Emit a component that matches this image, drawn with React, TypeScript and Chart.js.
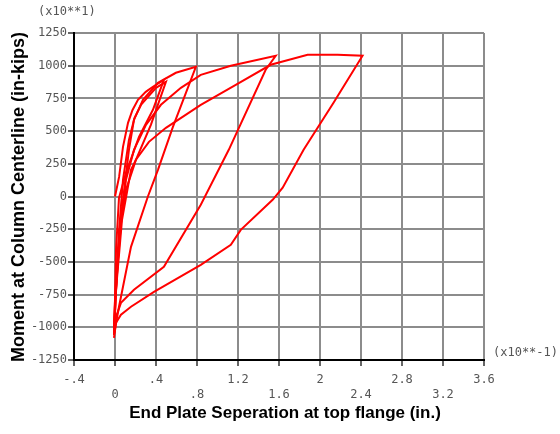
import React, { useEffect, useRef } from "react";
import { Chart, registerables } from "chart.js";

Chart.register(...registerables);

// Tick values and labels
const xTickValues = [-0.4, 0, 0.4, 0.8, 1.2, 1.6, 2.0, 2.4, 2.8, 3.2, 3.6];
const xTickLabels = ["-.4", "0", ".4", ".8", "1.2", "1.6", "2", "2.4", "2.8", "3.2", "3.6"];
const yTickValues = [-1250, -1000, -750, -500, -250, 0, 250, 500, 750, 1000, 1250];

// End plate separation (x10^-1 in.) and moment (x10 in-kips), one pair of arrays per cycle
const cycle1Sep = [0, 0.04, 0.078, 0.127, 0.17, 0.224, 0.3, 0.37, 0.477, 0.37, 0.234, 0.107, 0.039, 0.01, 0, -0.01];
const cycle1Moment = [0, 150, 380, 563, 660, 739, 800, 839, 892, 663, 456, 181, -10, -408, -791, -1019];

const cycle2Sep = [-0.01, 0.01, 0.04, 0.078, 0.136, 0.19, 0.253, 0.4, 0.497, 0.35, 0.204, 0.107, 0.039, 0.01, -0.01];
const cycle2Moment = [-1019, -638, -256, 128, 433, 600, 700, 831, 877, 548, 280, 51, -256, -715, -1057];

const cycle3Sep = [-0.01, 0.0, 0.029, 0.078, 0.136, 0.185, 0.273, 0.419, 0.594, 0.789, 0.565, 0.419, 0.321, 0.156, 0.039, -0.01];
const cycle3Moment = [-1057, -800, -485, -25, 356, 586, 739, 869, 946, 992, 532, 204, 0, -385, -843, -1057];

const cycle4Sep = [-0.01, 0.005, 0.04, 0.107, 0.185, 0.302, 0.448, 0.643, 0.837, 1.13, 1.568, 1.47, 1.11, 0.837, 0.477, 0.185, 0.058, 0.01, -0.01];
const cycle4Moment = [-1057, -790, -330, 128, 356, 548, 701, 831, 930, 999, 1076, 969, 357, -63, -537, -713, -813, -920, -1057];

const cycle5Sep = [-0.01, 0.01, 0.068, 0.156, 0.204, 0.331, 0.497, 0.837, 1.178, 1.519, 1.879, 2.171, 2.415, 2.132, 1.84, 1.636, 1.538, 1.227, 1.13, 0.837, 0.38, 0.156, 0.058, 0.01, -0.01];
const cycle5Moment = [-1057, -713, -180, 204, 281, 418, 525, 701, 854, 1007, 1083, 1083, 1076, 716, 357, 67, -25, -255, -370, -522, -729, -843, -904, -966, -1080];

const cycles = [
  [cycle1Sep, cycle1Moment],
  [cycle2Sep, cycle2Moment],
  [cycle3Sep, cycle3Moment],
  [cycle4Sep, cycle4Moment],
  [cycle5Sep, cycle5Moment],
];

const yTitle = "Moment at Column Centerline (in-kips)";
const xTitle = "End Plate Seperation at top flange (in.)";
const yMultiplier = "(x10**1)";
const xMultiplier = "(x10**-1)";

const MONO = '"DejaVu Sans Mono", monospace';
const SANS = '"Liberation Sans", Arial, sans-serif';

const textPlugin = {
  id: "axisTexts",
  afterDraw(chart: any) {
    const ctx = chart.ctx;
    ctx.save();
    ctx.fillStyle = "#000";
    ctx.textAlign = "center";
    ctx.textBaseline = "middle";
    ctx.font = `bold 17px ${SANS}`;
    ctx.fillText(xTitle, 285, 413);
    ctx.save();
    ctx.translate(19, 197);
    ctx.rotate(-Math.PI / 2);
    ctx.font = `bold 18px ${SANS}`;
    ctx.fillText(yTitle, 0, 0);
    ctx.restore();
    ctx.font = `12px ${MONO}`;
    ctx.fillStyle = "#555";
    ctx.textAlign = "left";
    ctx.fillText(yMultiplier, 38, 12);
    ctx.fillText(xMultiplier, 493, 353);
    ctx.restore();
  },
};

export default function App() {
  const canvasRef = useRef<HTMLCanvasElement | null>(null);

  useEffect(() => {
    const canvas = canvasRef.current;
    if (!canvas) return;
    const datasets = cycles.map(([xs, ys]) => ({
      data: xs.map((x, i) => ({ x, y: ys[i] })),
      showLine: true,
      borderColor: "#ff0000",
      backgroundColor: "#ff0000",
      borderWidth: 2,
      pointRadius: 0,
      tension: 0,
      fill: false,
    }));
    const gridColor = "#8c8c8c";
    const chart = new Chart(canvas, {
      type: "scatter",
      data: { datasets },
      plugins: [textPlugin],
      options: {
        animation: false,
        responsive: false,
        maintainAspectRatio: false,
        layout: { padding: { top: 33, right: 76, left: 0, bottom: 0 } },
        plugins: { legend: { display: false }, tooltip: { enabled: false } },
        scales: {
          x: {
            type: "linear",
            min: -0.4,
            max: 3.6,
            afterBuildTicks: (scale: any) => {
              scale.ticks = xTickValues.map((v) => ({ value: v }));
            },
            afterFit: (scale: any) => {
              scale.height = 74;
            },
            grid: { color: gridColor, lineWidth: 2, tickLength: 6, tickColor: "#666" },
            border: { color: "#000", width: 2 },
            ticks: {
              autoSkip: false,
              maxRotation: 0,
              padding: 6,
              color: "#555",
              font: { family: MONO, size: 12, lineHeight: 1.25 },
              callback: (_v: any, i: number) => (i % 2 === 0 ? xTickLabels[i] : ["", xTickLabels[i]]),
            },
          },
          y: {
            type: "linear",
            min: -1250,
            max: 1250,
            afterBuildTicks: (scale: any) => {
              scale.ticks = yTickValues.map((v) => ({ value: v }));
            },
            afterFit: (scale: any) => {
              scale.width = 74;
            },
            grid: { color: gridColor, lineWidth: 2, tickLength: 6, tickColor: "#666" },
            border: { color: "#000", width: 2 },
            ticks: {
              autoSkip: false,
              padding: 1,
              color: "#555",
              font: { family: MONO, size: 12 },
              callback: (v: any) => String(v),
            },
          },
        },
      },
    });
    return () => chart.destroy();
  }, []);

  return (
    <div style={{ position: "absolute", left: 0, top: 0, width: 560, height: 434, background: "#fff" }}>
      <canvas ref={canvasRef} width={560} height={434} style={{ width: 560, height: 434 }} />
    </div>
  );
}
